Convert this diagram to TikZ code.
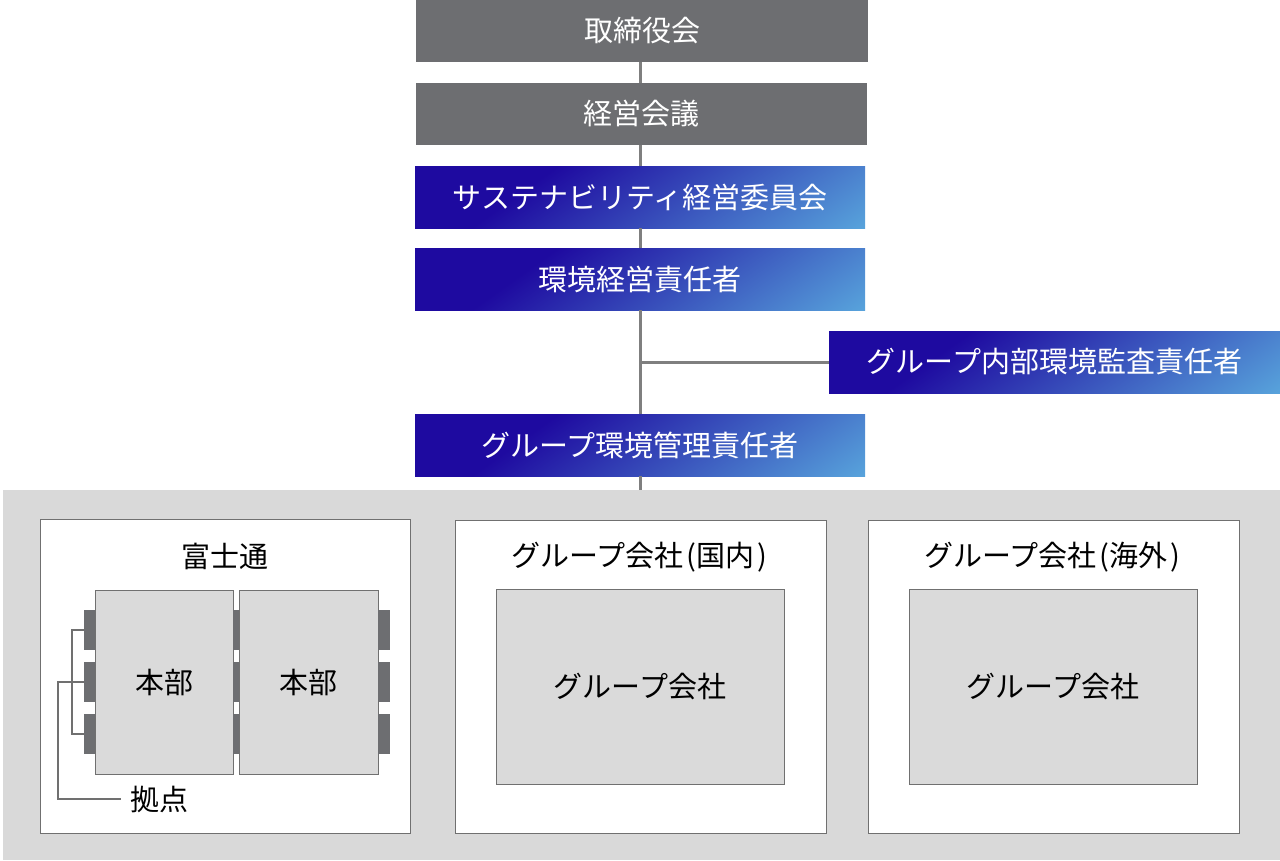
\documentclass[tikz,border=0pt]{standalone}
\usepackage{fontspec}
\setmainfont{Noto Sans CJK JP}
\definecolor{boxgray}{HTML}{6D6E71}
\definecolor{linegray}{HTML}{7F7F7F}
\definecolor{bggray}{HTML}{D9D9D9}
\definecolor{innergray}{HTML}{DADADA}
\definecolor{edgegray}{HTML}{707070}
\pgfdeclarefunctionalshading{bluegr}{\pgfpoint{0bp}{0bp}}{\pgfpoint{100bp}{100bp}}{}{
  50 sub 0.193 mul sub
  36 sub 44 div
  dup 0 lt {pop 0} if
  dup 1 gt {pop 1} if
  dup 0.227 mul 0.118 add exch
  dup 0.604 mul 0.039 add exch
  0.235 mul 0.627 add
}
\tikzset{
  topbox/.style={fill=boxgray, text=white, minimum height=62pt, inner sep=0pt, font=\fontsize{29}{35}\selectfont},
  bluebox/.style={shade, shading=bluegr, text=white, minimum height=62pt, inner sep=0pt, font=\fontsize{29}{35}\selectfont},
  conn/.style={draw=linegray, line width=3pt},
  outerbox/.style={draw=edgegray, line width=1pt, fill=white},
  innerbox/.style={draw=edgegray, line width=1pt, fill=innergray, inner sep=0pt, font=\fontsize{29}{35}\selectfont},
  tab/.style={fill=boxgray, inner sep=0pt},
  br/.style={draw=edgegray, line width=1.5pt},
  lbl/.style={text=black, inner sep=0pt, font=\fontsize{29}{35}\selectfont}
}
\begin{document}
\begin{tikzpicture}[x=1pt,y=-1pt]
\useasboundingbox (0,0) rectangle (1280,860);
% top chain
\node[topbox, minimum width=452pt] (board) at (642,31) {取締役会};
\node[topbox, minimum width=451pt] (mgmt) at (641.5,114) {経営会議};
\node[bluebox, minimum width=450pt] (sus) at (640,197) {サステナビリティ経営委員会};
\node[bluebox, minimum width=450pt] (env) at (640,279) {環境経営責任者};
\node[bluebox, minimum width=451pt] (audit) at (1054.5,362) {グループ内部環境監査責任者};
\node[bluebox, minimum width=450pt] (grp) at (640,445) {グループ環境管理責任者};
% background
\fill[bggray] (3,490) rectangle (1280,860);
\coordinate (bgtop) at (640,490);
% connectors
\draw[conn] (board.south -| env.south) -- (mgmt.north -| env.south);
\draw[conn] (mgmt.south -| env.south) -- (sus.north);
\draw[conn] (sus.south) -- (env.north);
\draw[conn] (env.south) -- (grp.north);
\draw[conn] (grp.south) -- (bgtop);
\draw[conn] (env.south |- audit.west) -- (audit.west);
% Fujitsu
\node[outerbox, minimum width=370pt, minimum height=314pt, inner sep=0pt] (fj) at (225,676) {};
\node[lbl] (fjt) at (225,556) {富士通};
\node[innerbox, minimum width=138pt, minimum height=184pt] (hb1) at (164,682) {本部};
\node[innerbox, minimum width=139pt, minimum height=184pt] (hb2) at (308.5,682) {本部};
\foreach \y/\n in {630/1,682/2,734/3}{
  \node[tab, minimum width=11pt, minimum height=40pt] (tl\n) at (89.5,\y) {};
  \node[tab, minimum width=6pt, minimum height=40pt] (tm\n) at (236,\y) {};
  \node[tab, minimum width=12pt, minimum height=40pt] (tr\n) at (384,\y) {};
}
\node[lbl, anchor=west, inner xsep=9pt] (hub) at (121,799) {拠点};
\draw[br] (tl1.west) -- ++(-12,0) |- (tl3.west);
\draw[br] (tl2.west) -- ++(-26,0) |- (hub.west);
% domestic
\node[outerbox, minimum width=371pt, minimum height=313pt, inner sep=0pt] (dom) at (640.5,676.5) {};
\node[lbl] (domt) at (639,557) {グループ会社\kern.1em(国内\kern.1em)};
\node[innerbox, minimum width=288pt, minimum height=195pt] (domi) at (640,686.5) {グループ会社};
% overseas
\node[outerbox, minimum width=371pt, minimum height=313pt, inner sep=0pt] (ovs) at (1053.5,676.5) {};
\node[lbl] (ovst) at (1052,557) {グループ会社\kern.1em(海外\kern.1em)};
\node[innerbox, minimum width=288pt, minimum height=195pt] (ovsi) at (1053,686.5) {グループ会社};
\end{tikzpicture}
\end{document}
